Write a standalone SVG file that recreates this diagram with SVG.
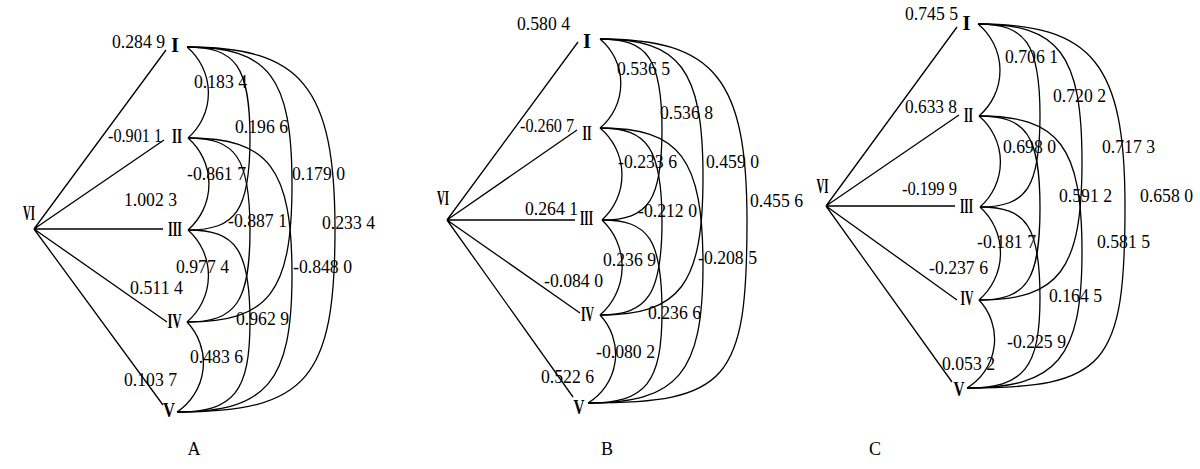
<svg xmlns="http://www.w3.org/2000/svg" width="1200" height="469" viewBox="0 0 1200 469">
<style>
.ln{stroke:#000;stroke-width:1.3;fill:none}
.num{font-family:"Liberation Serif",serif;font-size:18.5px;fill:#000}
.rn{font-family:"Liberation Serif",serif;font-weight:bold;font-size:20.5px;text-anchor:middle;fill:#000}
.cap{font-family:"Liberation Serif",serif;font-size:18px;text-anchor:middle;fill:#000}
</style>
<rect width="1200" height="469" fill="#fff"/>

<!-- Panel A -->
<g id="panel-A">
<g id="A-connectors">
<path class="ln" d="M34,229 L166,50 M34,229 L164,140 M34,229 L163,229 M34,229 L167,322 M34,229 L163,405"/>
<path class="ln" d="M187,47 A60,60 0 0 1 188,138 M188,138 A61,61 0 0 1 188,230 M188,230 A61,61 0 0 1 187,322 M187,322 A59,59 0 0 1 177,412"/>
<path class="ln" d="M187,47 C236,47 250,67 250,138.5 C250,210 236,230 188,230"/>
<path class="ln" d="M188,138 C236,138 250,158 250,230 C250,302 236,322 187,322"/>
<path class="ln" d="M188,230 C236,230 250,250 250,321 C250,392 234,412 177,412"/>
<path class="ln" d="M187,47 C269,47 292,77 292,184.5 C292,292 269,322 187,322"/>
<path class="ln" d="M188,138 C269,138 292,168 292,275 C292,382 267,412 177,412"/>
<path class="ln" d="M187,47 C302,47 335,87 335,229.5 C335,379 307,412 177,412"/>
</g>
<g id="A-VI"><text class="rn" x="29" y="220" textLength="12" lengthAdjust="spacingAndGlyphs">VI</text></g>
<g id="A-I"><text class="rn" x="175" y="52">I</text></g>
<g id="A-II"><text class="rn" x="177" y="143" textLength="10" lengthAdjust="spacingAndGlyphs">II</text></g>
<g id="A-III"><text class="rn" x="175" y="236" textLength="14" lengthAdjust="spacingAndGlyphs">III</text></g>
<g id="A-IV"><text class="rn" x="174.5" y="328" textLength="14" lengthAdjust="spacingAndGlyphs">IV</text></g>
<g id="A-V"><text class="rn" x="169" y="417" textLength="12" lengthAdjust="spacingAndGlyphs">V</text></g>
<g id="A-labels">
<text class="num" x="112" y="48" textLength="53" lengthAdjust="spacingAndGlyphs">0.284 9</text>
<text class="num" x="194" y="88" textLength="53" lengthAdjust="spacingAndGlyphs">0.183 4</text>
<text class="num" x="108" y="142" textLength="54" lengthAdjust="spacingAndGlyphs">-0.901 1</text>
<text class="num" x="235" y="133" textLength="53" lengthAdjust="spacingAndGlyphs">0.196 6</text>
<text class="num" x="187" y="180" textLength="59" lengthAdjust="spacingAndGlyphs">-0.861 7</text>
<text class="num" x="292" y="180" textLength="53" lengthAdjust="spacingAndGlyphs">0.179 0</text>
<text class="num" x="124" y="206" textLength="53" lengthAdjust="spacingAndGlyphs">1.002 3</text>
<text class="num" x="228" y="227" textLength="59" lengthAdjust="spacingAndGlyphs">-0.887 1</text>
<text class="num" x="322" y="229" textLength="53" lengthAdjust="spacingAndGlyphs">0.233 4</text>
<text class="num" x="176" y="273" textLength="53" lengthAdjust="spacingAndGlyphs">0.977 4</text>
<text class="num" x="293" y="273" textLength="59" lengthAdjust="spacingAndGlyphs">-0.848 0</text>
<text class="num" x="130" y="294" textLength="53" lengthAdjust="spacingAndGlyphs">0.511 4</text>
<text class="num" x="236" y="325" textLength="53" lengthAdjust="spacingAndGlyphs">0.962 9</text>
<text class="num" x="190" y="363" textLength="53" lengthAdjust="spacingAndGlyphs">0.483 6</text>
<text class="num" x="124" y="386" textLength="53" lengthAdjust="spacingAndGlyphs">0.103 7</text>
</g>
<text class="cap" x="194" y="455">A</text>
</g>

<!-- Panel B -->
<g id="panel-B">
<g id="B-connectors">
<path class="ln" d="M447,220 L578,42 M447,220 L577,130 M447,220 L575,220 M447,220 L580,313 M447,220 L573,397"/>
<path class="ln" d="M600,39 A58,58 0 0 1 600,128 M600,128 A61,61 0 0 1 602,220 M602,220 A64,64 0 0 1 600,315 M600,315 A57,57 0 0 1 588,403"/>
<path class="ln" d="M600,39 C648,39 662,59 662,129.5 C662,200 649,220 602,220"/>
<path class="ln" d="M600,128 C648,128 662,149 662,221.5 C662,294 648,315 600,315"/>
<path class="ln" d="M602,220 C649,220 662,240 662,311.5 C662,383 646,403 588,403"/>
<path class="ln" d="M600,39 C680,39 703,69 703,177 C703,285 680,315 600,315"/>
<path class="ln" d="M600,128 C680,128 703,158 703,265.5 C703,373 678,403 588,403"/>
<path class="ln" d="M600,39 C715,39 747,79 747,221 C747,381 728,403 588,403"/>
</g>
<g id="B-VI"><text class="rn" x="443" y="205" textLength="12" lengthAdjust="spacingAndGlyphs">VI</text></g>
<g id="B-I"><text class="rn" x="587" y="48">I</text></g>
<g id="B-II"><text class="rn" x="587" y="140" textLength="9" lengthAdjust="spacingAndGlyphs">II</text></g>
<g id="B-III"><text class="rn" x="586.5" y="225" textLength="13" lengthAdjust="spacingAndGlyphs">III</text></g>
<g id="B-IV"><text class="rn" x="587.5" y="321" textLength="13" lengthAdjust="spacingAndGlyphs">IV</text></g>
<g id="B-V"><text class="rn" x="579" y="414" textLength="11" lengthAdjust="spacingAndGlyphs">V</text></g>
<g id="B-labels">
<text class="num" x="517" y="30" textLength="53" lengthAdjust="spacingAndGlyphs">0.580 4</text>
<text class="num" x="617" y="75" textLength="53" lengthAdjust="spacingAndGlyphs">0.536 5</text>
<text class="num" x="520" y="132" textLength="54" lengthAdjust="spacingAndGlyphs">-0.260 7</text>
<text class="num" x="660" y="119" textLength="53" lengthAdjust="spacingAndGlyphs">0.536 8</text>
<text class="num" x="618" y="168" textLength="59" lengthAdjust="spacingAndGlyphs">-0.233 6</text>
<text class="num" x="706" y="168" textLength="53" lengthAdjust="spacingAndGlyphs">0.459 0</text>
<text class="num" x="525" y="215" textLength="53" lengthAdjust="spacingAndGlyphs">0.264 1</text>
<text class="num" x="638" y="217" textLength="59" lengthAdjust="spacingAndGlyphs">-0.212 0</text>
<text class="num" x="750" y="207" textLength="53" lengthAdjust="spacingAndGlyphs">0.455 6</text>
<text class="num" x="603" y="266" textLength="53" lengthAdjust="spacingAndGlyphs">0.236 9</text>
<text class="num" x="698" y="264" textLength="59" lengthAdjust="spacingAndGlyphs">-0.208 5</text>
<text class="num" x="544" y="287" textLength="59" lengthAdjust="spacingAndGlyphs">-0.084 0</text>
<text class="num" x="648" y="319" textLength="53" lengthAdjust="spacingAndGlyphs">0.236 6</text>
<text class="num" x="596" y="358" textLength="59" lengthAdjust="spacingAndGlyphs">-0.080 2</text>
<text class="num" x="541" y="383" textLength="53" lengthAdjust="spacingAndGlyphs">0.522 6</text>
</g>
<text class="cap" x="607" y="455">B</text>
</g>

<!-- Panel C -->
<g id="panel-C">
<g id="C-connectors">
<path class="ln" d="M826,206 L957,27 M826,206 L959,115 M826,206 L955,206 M826,206 L957,300 M826,206 L952,382"/>
<path class="ln" d="M978,24 A60,60 0 0 1 979,116 M979,116 A60,60 0 0 1 980,207 M980,207 A62,62 0 0 1 979,300 M979,300 A57,57 0 0 1 967,388"/>
<path class="ln" d="M978,24 C1026,24 1040,44 1040,115.5 C1040,187 1027,207 980,207"/>
<path class="ln" d="M979,116 C1027,116 1040,136 1040,208 C1040,280 1027,300 979,300"/>
<path class="ln" d="M980,207 C1027,207 1040,227 1040,297.5 C1040,368 1024,388 967,388"/>
<path class="ln" d="M978,24 C1059,24 1082,54 1082,162 C1082,270 1059,300 979,300"/>
<path class="ln" d="M979,116 C1059,116 1082,146 1082,252 C1082,358 1057,388 967,388"/>
<path class="ln" d="M978,24 C1093,24 1125,64 1125,206 C1125,366 1106,388 967,388"/>
</g>
<g id="C-VI"><text class="rn" x="822.5" y="193" textLength="12" lengthAdjust="spacingAndGlyphs">VI</text></g>
<g id="C-I"><text class="rn" x="966.5" y="30">I</text></g>
<g id="C-II"><text class="rn" x="968.5" y="122" textLength="9" lengthAdjust="spacingAndGlyphs">II</text></g>
<g id="C-III"><text class="rn" x="966.5" y="213" textLength="13" lengthAdjust="spacingAndGlyphs">III</text></g>
<g id="C-IV"><text class="rn" x="967" y="305" textLength="13" lengthAdjust="spacingAndGlyphs">IV</text></g>
<g id="C-V"><text class="rn" x="959" y="396" textLength="11" lengthAdjust="spacingAndGlyphs">V</text></g>
<g id="C-labels">
<text class="num" x="905" y="20" textLength="53" lengthAdjust="spacingAndGlyphs">0.745 5</text>
<text class="num" x="1005" y="63" textLength="53" lengthAdjust="spacingAndGlyphs">0.706 1</text>
<text class="num" x="1053" y="102" textLength="53" lengthAdjust="spacingAndGlyphs">0.720 2</text>
<text class="num" x="905" y="113" textLength="52" lengthAdjust="spacingAndGlyphs">0.633 8</text>
<text class="num" x="1003" y="153" textLength="53" lengthAdjust="spacingAndGlyphs">0.698 0</text>
<text class="num" x="1102" y="153" textLength="53" lengthAdjust="spacingAndGlyphs">0.717 3</text>
<text class="num" x="902" y="195" textLength="55" lengthAdjust="spacingAndGlyphs">-0.199 9</text>
<text class="num" x="1059" y="202" textLength="53" lengthAdjust="spacingAndGlyphs">0.591 2</text>
<text class="num" x="1140" y="202" textLength="53" lengthAdjust="spacingAndGlyphs">0.658 0</text>
<text class="num" x="977" y="248" textLength="59" lengthAdjust="spacingAndGlyphs">-0.181 7</text>
<text class="num" x="1097" y="248" textLength="53" lengthAdjust="spacingAndGlyphs">0.581 5</text>
<text class="num" x="929" y="274" textLength="59" lengthAdjust="spacingAndGlyphs">-0.237 6</text>
<text class="num" x="1049" y="302" textLength="53" lengthAdjust="spacingAndGlyphs">0.164 5</text>
<text class="num" x="1007" y="348" textLength="59" lengthAdjust="spacingAndGlyphs">-0.225 9</text>
<text class="num" x="942" y="370" textLength="53" lengthAdjust="spacingAndGlyphs">0.053 2</text>
</g>
<text class="cap" x="875" y="455">C</text>
</g>
</svg>
